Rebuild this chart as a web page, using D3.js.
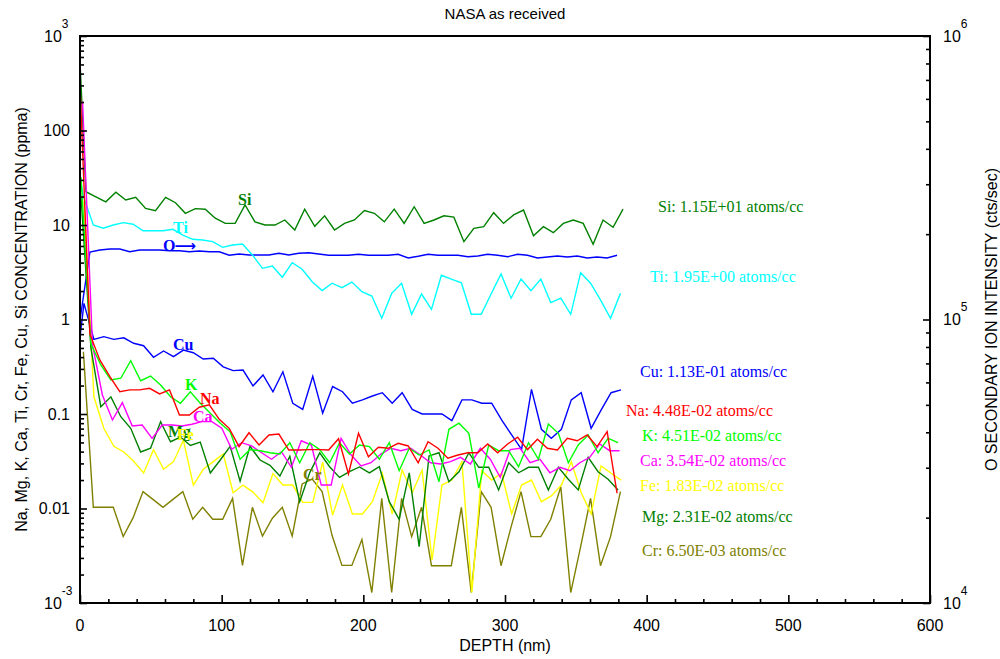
<!DOCTYPE html>
<html><head><meta charset="utf-8">
<script src="https://cdn.jsdelivr.net/npm/d3@7"></script>
<style>body{margin:0;background:#fff} svg{display:block}</style>
</head><body>
<svg id="c" width="1000" height="659"></svg>
<script>
// ---------------- DATA ----------------
// sputter-cycle depths (nm); each element is measured slightly later in the cycle (cycleShift)
const depth = [0,7,14,21.1,28.1,35.1,42.1,49.1,56.2,63.2,70.2,77.2,84.2,91.3,98.3,105.3,112.3,119.3,126.4,133.4,140.4,147.4,154.4,161.5,168.5,175.5,182.5,189.5,196.6,203.6,210.6,217.6,224.6,231.7,238.7,245.7,252.7,259.7,266.8,273.8,280.8,287.8,294.8,301.9,308.9,315.9,322.9,329.9,337,344,351,358,365,372.1,379.1];

const elements = ["Si","Ti","Cu","Na","K","Ca","Fe","Mg","Cr"];
const cycleShift = [4.2, 2.4, 2.8, 0, 0.7, 1.8, 2.8, 0.7, 2.4];
const surfaceValue = [535, 32, 0.65, null, null, null, null, null, null];
const atomsPerCc = ["1.15E+01","1.95E+00","1.13E-01","4.48E-02","4.51E-02","3.54E-02","1.83E-02","2.31E-02","6.50E-03"];

const Si = [22.5,19.9,17.6,22.2,18.4,19.6,15.0,14.2,19.6,17.2,13.3,14.9,14.7,11.8,10.4,10.4,16.3,10.8,10,10,11.3,8.85,14.7,9.7,12.5,8.85,10.4,11.3,14.2,13.3,10.8,14.7,10.4,15.6,10.4,11.3,12.5,12.1,6.66,9.23,9.6,13.5,10.4,12.8,14.4,7.7,9.6,8.3,10.4,11.3,10.4,6.25,11.3,9.45,14.7];
const Ti = [20,10,9.23,10,10.6,10.2,8.7,8.7,8.7,9.0,7.8,7.06,6.94,6.66,5.8,6.14,6.3,4.82,3.48,3.68,2.8,3.99,3.4,2.51,2.02,2.42,2.17,2.49,1.97,1.77,1.03,1.89,2.42,1.135,1.86,1.28,2.94,2.68,2.45,1.135,1.135,1.86,3.03,1.68,2.68,2.02,2.68,1.51,1.68,1.135,3.13,2.42,1.61,1.03,1.89];
const Cu = [1.48,0.617,0.658,0.617,0.64,0.56,0.528,0.398,0.464,0.404,0.475,0.445,0.382,0.389,0.316,0.288,0.292,0.198,0.259,0.172,0.28,0.13,0.112,0.25,0.102,0.195,0.172,0.13,0.141,0.155,0.168,0.13,0.168,0.112,0.1,0.1,0.1,0.085,0.141,0.141,0.13,0.13,0.0865,0.06,0.0423,0.1825,0.0689,0.0553,0.0689,0.141,0.168,0.0706,0.11,0.168,0.18];
const Na = [303,0.7,0.373,0.248,0.172,0.18,0.18,0.187,0.163,0.18,0.0976,0.0976,0.118,0.125,0.0877,0.0705,0.0451,0.0633,0.047,0.06,0.0614,0.0416,0.0416,0.042,0.042,0.0416,0.0547,0.0232,0.0625,0.0353,0.0444,0.0434,0.049,0.0459,0.0305,0.0509,0.0434,0.034,0.0368,0.0389,0.0389,0.0482,0.0389,0.0482,0.0567,0.042,0.054,0.0434,0.0416,0.0553,0.0521,0.06,0.0451,0.065,0.0145];
const K = [32,0.55,0.33,0.229,0.239,0.366,0.225,0.252,0.203,0.152,0.13,0.172,0.13,0.102,0.08,0.065,0.0332,0.042,0.0409,0.0389,0.0377,0.0497,0.0305,0.0497,0.042,0.0305,0.0497,0.0377,0.047,0.0451,0.0332,0.0497,0.0251,0.0434,0.0368,0.0416,0.0192,0.0689,0.08,0.0625,0.0164,0.047,0.0409,0.0409,0.0277,0.0497,0.0332,0.0784,0.0625,0.0305,0.047,0.06,0.0389,0.0553,0.0497];
const Ca = [202,0.54,0.159,0.0864,0.132,0.0747,0.0765,0.0553,0.0765,0.0765,0.0747,0.078,0.083,0.083,0.0706,0.0423,0.0497,0.0459,0.0389,0.0332,0.0399,0.0273,0.0521,0.047,0.0177,0.0177,0.0553,0.037,0.0282,0.0305,0.0377,0.0434,0.0409,0.0434,0.0366,0.0305,0.0296,0.0313,0.0348,0.0296,0.0434,0.0332,0.0214,0.042,0.0434,0.0305,0.0332,0.0239,0.0273,0.0251,0.0305,0.0348,0.0482,0.0409,0.0409];
const Fe = [18,0.152,0.0706,0.0455,0.0396,0.0316,0.0238,0.042,0.026,0.0313,0.0527,0.0177,0.026,0.0313,0.0377,0.0147,0.0177,0.0149,0.0115,0.0234,0.0177,0.0177,0.0116,0.0116,0.0309,0.0085,0.0177,0.00875,0.00875,0.0118,0.0236,0.00875,0.0255,0.0147,0.0255,0.00285,0.0177,0.02,0.0313,0.00129,0.0251,0.02,0.0236,0.00875,0.0177,0.02,0.0118,0.0136,0.0177,0.0313,0.0147,0.00875,0.0282,0.0236,0.02];
const Mg = [20,0.5,0.119,0.152,0.0936,0.0706,0.0396,0.0434,0.083,0.0509,0.0571,0.0465,0.0504,0.0238,0.0326,0.0455,0.0195,0.0455,0.0326,0.0286,0.0221,0.0357,0.0118,0.024,0.0388,0.0277,0.0213,0.0245,0.0275,0.0238,0.0277,0.0118,0.0077,0.0238,0.00394,0.036,0.0389,0.0192,0.0245,0.0389,0.0273,0.0273,0.0157,0.0305,0.0239,0.0273,0.0273,0.0157,0.0273,0.0204,0.0157,0.0348,0.0245,0.0204,0.0157];
const Cr = [0.456,0.0103,0.0103,0.0103,0.00506,0.008,0.0151,0.0125,0.0103,0.0125,0.0151,0.0077,0.0103,0.0077,0.0077,0.0128,0.0025,0.0103,0.0051,0.0079,0.0103,0.0051,0.0182,0.0205,0.0151,0.0052,0.0025,0.0025,0.0047,0.00129,0.0128,0.00129,0.0128,0.00504,0.0103,0.00248,0.00248,0.00248,0.0103,0.00129,0.0151,0.0103,0.00248,0.0064,0.0151,0.00504,0.00504,0.0077,0.017,0.00129,0.00394,0.0128,0.00248,0.00504,0.0151];
// O secondary ion intensity (cts/sec), right axis
const O = [99600,173000,175800,177300,177300,173400,175800,175800,175800,174800,174800,173400,174400,173400,173400,168500,170200,168900,168900,168900,171200,168900,171200,172000,170200,168500,168500,168500,169800,168500,168500,168500,169800,164800,167100,169800,168500,168500,168500,166500,167500,169800,168500,166500,169800,168500,164800,166100,167500,166100,167500,164800,166100,164800,168500];

const leftMajor = [1e-3,1e-2,1e-1,1,10,100,1e3];
const leftLabels = [["10","-3"],["0.01"],["0.1"],["1"],["10"],["100"],["10","3"]];
const rightMajor = [1e4,1e5,1e6];
const rightLabels = [["10","4"],["10","5"],["10","6"]];
const xMajor = [0,100,200,300,400,500,600];

// ---------------- STYLE / LAYOUT ----------------
const colors = {Si:"#008000",Ti:"#00ffff",Cu:"#0000ff",Na:"#ff0000",K:"#00ff00",Ca:"#ff00ff",Fe:"#ffff00",Mg:"#008000",Cr:"#808000",O:"#0000ff"};
const inlinePos = {Si:[238,205],Ti:[173,233],Cu:[173,350],K:[185,390],Na:[200,404],Ca:[193,422],Mg:[168,437],Fe:[177,440],Cr:[303,480]};
const inlineOrder = ["Si","Ti","Cu","K","Na","Ca","Mg","Fe","Cr"];
const rightPos = {Si:[658,212],Ti:[650,282],Cu:[640,377],Na:[626,416],K:[642,441],Ca:[640,466],Fe:[640,491],Mg:[642,522],Cr:[642,556]};
const L=80,R=930,T=36,B=603;
const SANS="'Liberation Sans', Arial, sans-serif", SERIF="'Liberation Serif','Times New Roman', serif";

const svg = d3.select("#c");
const x = d3.scaleLinear().domain([0,600]).range([L,R]);
const y = d3.scaleLog().domain([1e-3,1e3]).range([B,T]);
const y2 = d3.scaleLog().domain([1e4,1e6]).range([B,T]);

svg.append("defs").append("clipPath").attr("id","clip")
  .append("rect").attr("x",L).attr("y",T).attr("width",R-L).attr("height",B-T);

const conc = {Si,Ti,Cu,Na,K,Ca,Fe,Mg,Cr};
function buildSeries(vals, shift, surf){
  const pts = [];
  if (surf!=null) pts.push({d:0,v:surf});
  vals.forEach((v,i)=>pts.push({d:depth[i]+shift, v}));
  return pts;
}
const plot = svg.append("g").attr("clip-path","url(#clip)");

// O line (right axis)
const lineO = d3.line().x(p=>x(p.d)).y(p=>y2(p.v));
plot.append("path").datum(buildSeries(O,0,null))
  .attr("d",lineO).attr("fill","none").attr("stroke",colors.O).attr("stroke-width",1.4);

const lineC = d3.line().defined(p=>p.v!=null).x(p=>x(p.d)).y(p=>y(p.v));
const drawOrder = ["Si","Ti","Cu","Cr","Fe","Mg","Ca","K","Na"];
drawOrder.forEach(n=>{
  const k = elements.indexOf(n);
  plot.append("path").datum(buildSeries(conc[n],cycleShift[k],surfaceValue[k]))
    .attr("d",lineC).attr("fill","none").attr("stroke",colors[n]).attr("stroke-width",1.4);
});

// ---------------- AXES ----------------
function minorLog(lo,hi){const r=[];for(let e=lo;e<hi;e++)for(let m=2;m<10;m++)r.push(m*Math.pow(10,e));return r;}
const axStyle = g=>{g.select(".domain").remove();g.selectAll("line").attr("stroke","#000").attr("stroke-width",1.6);};

svg.append("g").attr("transform",`translate(${L},0)`)
  .call(d3.axisLeft(y).tickValues(leftMajor).tickSize(-7).tickFormat("")).call(axStyle);
svg.append("g").attr("transform",`translate(${L},0)`)
  .call(d3.axisLeft(y).tickValues(minorLog(-3,3)).tickSize(-4).tickFormat("")).call(axStyle);
svg.append("g").attr("transform",`translate(${R},0)`)
  .call(d3.axisRight(y2).tickValues(rightMajor).tickSize(-7).tickFormat("")).call(axStyle);
svg.append("g").attr("transform",`translate(${R},0)`)
  .call(d3.axisRight(y2).tickValues(minorLog(4,6)).tickSize(-4).tickFormat("")).call(axStyle);
svg.append("g").attr("transform",`translate(0,${B})`)
  .call(d3.axisBottom(x).tickValues(xMajor).tickSize(-8).tickFormat("")).call(axStyle);
svg.append("g").attr("transform",`translate(0,${B})`)
  .call(d3.axisBottom(x).tickValues(d3.range(20,600,20).filter(v=>v%100)).tickSize(-4).tickFormat("")).call(axStyle);

// frame
svg.append("rect").attr("x",L).attr("y",T).attr("width",R-L).attr("height",B-T)
  .attr("fill","none").attr("stroke","#000").attr("stroke-width",2);

// tick labels
function powLabel(t, parts){
  t.append("tspan").text(parts[0]);
  if(parts[1]) t.append("tspan").attr("dy",-14).attr("font-size",12).text(parts[1]);
}
leftMajor.forEach((v,i)=>{
  const p = leftLabels[i];
  const t = svg.append("text").attr("font-family",SANS).attr("font-size",16).attr("fill","#000")
    .attr("y",y(v)+5.5);
  if(p.length>1) t.attr("x",44).attr("text-anchor","start");
  else t.attr("x",70).attr("text-anchor","end");
  powLabel(t,p);
});
rightMajor.forEach((v,i)=>{
  const t = svg.append("text").attr("font-family",SANS).attr("font-size",16).attr("fill","#000")
    .attr("x",943).attr("y",y2(v)+5.5);
  powLabel(t,rightLabels[i]);
});
xMajor.forEach(v=>{
  svg.append("text").attr("font-family",SANS).attr("font-size",16).attr("text-anchor","middle")
    .attr("x",x(v)).attr("y",631).text(v);
});

// titles
svg.append("text").attr("x",(L+R)/2).attr("y",19).attr("text-anchor","middle")
  .attr("font-family",SANS).attr("font-size",15).text("NASA as received");
svg.append("text").attr("x",(L+R)/2).attr("y",651).attr("text-anchor","middle")
  .attr("font-family",SANS).attr("font-size",16).text("DEPTH (nm)");
svg.append("text").attr("transform",`translate(27,${(T+B)/2}) rotate(-90)`).attr("text-anchor","middle")
  .attr("font-family",SANS).attr("font-size",16).text("Na, Mg, K, Ca, Ti, Cr, Fe, Cu, Si CONCENTRATION (ppma)");
svg.append("text").attr("transform",`translate(997,${(T+B)/2}) rotate(-90)`).attr("text-anchor","middle")
  .attr("font-family",SANS).attr("font-size",16).text("O SECONDARY ION INTENSITY (cts/sec)");

// inline element labels (Fe drawn over Mg, as in the original)
inlineOrder.forEach(n=>{
  const [px,py] = inlinePos[n];
  svg.append("text").attr("x",px).attr("y",py).attr("font-family",SERIF).attr("font-weight","bold")
    .attr("font-size",16).attr("fill",colors[n]).text(n);
});
const oLab = svg.append("text").attr("x",163).attr("y",251).attr("font-family",SERIF).attr("font-weight","bold")
  .attr("font-size",16).attr("fill",colors.O);
oLab.append("tspan").text("O");
oLab.append("tspan").attr("font-family","'DejaVu Sans', sans-serif").attr("font-size",15).attr("dx",-1).text("\u27F6");

// right-hand concentration annotations
elements.forEach((n,k)=>{
  const [px,py] = rightPos[n];
  svg.append("text").attr("x",px).attr("y",py).attr("font-family",SERIF)
    .attr("font-size",16).attr("fill",colors[n]).text(`${n}: ${atomsPerCc[k]} atoms/cc`);
});
</script>
</body></html>
